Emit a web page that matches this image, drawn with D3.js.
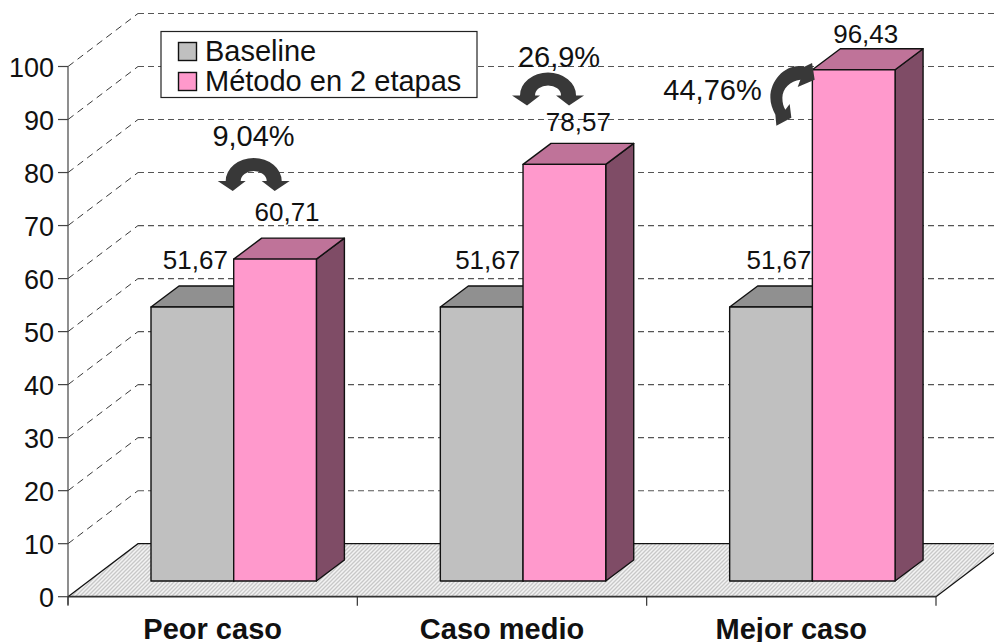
<!DOCTYPE html>
<html>
<head>
<meta charset="utf-8">
<script src="https://cdnjs.cloudflare.com/ajax/libs/d3/7.8.5/d3.min.js"></script>
<style>
html,body{margin:0;padding:0;background:#fff}
svg{display:block}
text{font-family:"Liberation Sans",Arial,sans-serif;fill:#111}
</style>
</head>
<body>
<svg id="chart" width="994" height="642"></svg>
<script>
const categories = ["Peor caso", "Caso medio", "Mejor caso"];
const seriesNames = ["Baseline", "Método en 2 etapas"];
const baselineValues = [51.67, 51.67, 51.67];
const metodoValues = [60.71, 78.57, 96.43];
const gains = ["9,04%", "26,9%", "44,76%"];
const yTicks = d3.range(0, 101, 10);

const frontColors = ["#c0c0c0", "#ff99cc"];
const topColors = ["#909090", "#bf7399"];
const sideColors = ["#606060", "#7f4c66"];

const svg = d3.select("#chart");
const y = d3.scaleLinear().domain([0, 100]).range([596.7, 66.5]);
const x = d3.scaleBand().domain(categories).range([68, 936]);
const inner = d3.scaleBand().domain([0, 1]).range([0, 165.4]);

// Oblique projection of the plot box: the wall sits one tick behind the axis plane.
const wallDx = 70, wallDy = -53;
const barDx = 28, barDy = -21;
const barShiftX = 20.5, barShiftY = -15.7;
const barGap = 62.5;

const fmt = v => d3.format(".2f")(v).replace(".", ",");

// Floor hatching
const defs = svg.append("defs");
const hatch = defs.append("pattern").attr("id", "floorHatch")
  .attr("width", 4).attr("height", 4).attr("patternUnits", "userSpaceOnUse");
hatch.append("rect").attr("width", 4).attr("height", 4).attr("fill", "#f3f3f3");
hatch.append("path").attr("d", "M-1,1L1,-1M0,4L4,0M3,5L5,3")
  .attr("stroke", "#c8c8c8").attr("stroke-width", 1.3);

// Floor
const x0 = x.range()[0], x1 = x.range()[1];
svg.append("path")
  .attr("d", d3.line()([[x0, y(0)], [x1, y(0)], [x1 + wallDx, y(0) + wallDy], [x0 + wallDx, y(0) + wallDy]]) + "Z")
  .attr("fill", "url(#floorHatch)");
svg.append("path")
  .attr("d", d3.line()([[x0, y(0)], [x0 + wallDx, y(0) + wallDy], [x1 + wallDx, y(0) + wallDy]]))
  .attr("fill", "none").attr("stroke", "#111").attr("stroke-width", 1.2);
svg.append("path")
  .attr("d", d3.line()([[x1, y(0)], [x1 + wallDx, y(0) + wallDy]]))
  .attr("fill", "none").attr("stroke", "#111").attr("stroke-width", 1.2);

// Gridlines: thin dashes up the side wall, greyer dashes along the back wall
const gridG = svg.append("g").attr("fill", "none");
gridG.selectAll(".side").data(yTicks.slice(1)).join("line").attr("class", "side")
  .attr("x1", x0).attr("y1", d => y(d)).attr("x2", x0 + wallDx).attr("y2", d => y(d) + wallDy)
  .attr("stroke", "#222").attr("stroke-width", 0.9).attr("stroke-dasharray", "7 5");
gridG.selectAll(".back").data(yTicks.slice(1)).join("line").attr("class", "back")
  .attr("x1", x0 + wallDx).attr("y1", d => y(d) + wallDy).attr("x2", 1000).attr("y2", d => y(d) + wallDy)
  .attr("stroke", "#555").attr("stroke-width", 1.1).attr("stroke-dasharray", "6 4");

// 3D bars: baseline first so the second series overlaps its side face
[baselineValues, metodoValues].forEach((vals, s) => {
  const g = svg.append("g");
  vals.forEach((v, i) => {
    const left = x(categories[i]) + barShiftX + barGap + inner(s);
    const right = left + inner.bandwidth();
    const top = y(v) + barShiftY;
    const base = y(0) + barShiftY;
    const face = (pts, fill) => g.append("path").attr("d", d3.line()(pts) + "Z").attr("fill", fill)
      .attr("stroke", "#111").attr("stroke-width", 1.4).attr("stroke-linejoin", "round");
    face([[right, top], [right + barDx, top + barDy], [right + barDx, base + barDy], [right, base]], sideColors[s]);
    face([[left, top], [left + barDx, top + barDy], [right + barDx, top + barDy], [right, top]], topColors[s]);
    face([[left, top], [right, top], [right, base], [left, base]], frontColors[s]);
  });
});

// Value axis
const axisG = svg.append("g");
axisG.append("line").attr("x1", x0).attr("x2", x0).attr("y1", y(100)).attr("y2", y(0) + 8)
  .attr("stroke", "#444").attr("stroke-width", 1.2);
axisG.selectAll(".ytick").data(yTicks).join("line").attr("class", "ytick")
  .attr("x1", x0 - 10).attr("x2", x0).attr("y1", d => y(d)).attr("y2", d => y(d))
  .attr("stroke", "#444").attr("stroke-width", 1.2);
axisG.selectAll(".ylab").data(yTicks).join("text").attr("class", "ylab")
  .attr("x", x0 - 14).attr("y", d => y(d) + 10)
  .attr("text-anchor", "end").attr("font-size", 27).text(d => d);

// Category axis
axisG.append("line").attr("x1", x0).attr("x2", x1).attr("y1", y(0)).attr("y2", y(0))
  .attr("stroke", "#333").attr("stroke-width", 1.8);
axisG.selectAll(".xtick").data(d3.range(4)).join("line").attr("class", "xtick")
  .attr("x1", d => x0 + d * x.step()).attr("x2", d => x0 + d * x.step())
  .attr("y1", y(0)).attr("y2", y(0) + 9)
  .attr("stroke", "#333").attr("stroke-width", 1.2);
axisG.selectAll(".xlab").data(categories).join("text").attr("class", "xlab")
  .attr("x", d => x(d) + x.bandwidth() / 2).attr("y", 639)
  .attr("text-anchor", "middle").attr("font-size", 29).attr("font-weight", "bold").text(d => d);

// Value labels above each bar
const labelG = svg.append("g");
const labelDx = [[3, 6, 8], [12, 14, 12]];
const labelRise = [[38, 38, 38], [38, 33, 27]];
[baselineValues, metodoValues].forEach((vals, s) => {
  vals.forEach((v, i) => {
    const left = x(categories[i]) + barShiftX + barGap + inner(s);
    labelG.append("text")
      .attr("x", left + inner.bandwidth() / 2 + labelDx[s][i])
      .attr("y", y(v) + barShiftY - labelRise[s][i])
      .attr("text-anchor", "middle").attr("font-size", 26).text(fmt(v));
  });
});

// Curved arrows marking the gain of the second series over the baseline
const archArrow = "M-36,4L-28,4A28,23 0 0 1 28,4L36,4L21,14L8,4L13,4A13,10 0 0 0 -13,4L-8,4L-21,14Z";
const sideArrow = "M-0.3,-7.7L2.3,9L-14.7,16.3L-12,9C-22,10 -30,18 -30,27C-30,32 -29,36 -27,39L-22.7,33.3L-21,47L-36,55L-37,44"
  + "C-40,38 -42,33 -42,27C-42,8 -25,-8 -8,-4Z";
const annG = svg.append("g");
const archDx = [20, 25], archRise = [82, 73];
[0, 1].forEach(i => {
  const cx = x(categories[i]) + barShiftX + barGap + inner(1);
  annG.append("path").attr("d", archArrow).attr("fill", "#383838")
    .attr("transform", `translate(${cx + archDx[i]},${y(metodoValues[i]) + barShiftY - archRise[i]})`);
});
const lastLeft = x(categories[2]) + barShiftX + barGap + inner(1);
annG.append("path").attr("d", sideArrow).attr("fill", "#383838")
  .attr("transform", `translate(${lastLeft},${y(metodoValues[2]) + barShiftY + 1})`);

annG.selectAll("text").data(gains).join("text")
  .attr("x", (d, i) => [253.5, 559, 712.5][i])
  .attr("y", (d, i) => [146, 67, 100][i])
  .attr("text-anchor", "middle").attr("font-size", 29).text(d => d);

// Legend
const legend = svg.append("g");
legend.append("rect").attr("x", 161).attr("y", 31.5).attr("width", 316).attr("height", 66)
  .attr("fill", "#fff").attr("stroke", "#222").attr("stroke-width", 1.2);
seriesNames.forEach((name, i) => {
  legend.append("rect").attr("x", 178.5).attr("y", 42.5 + i * 30).attr("width", 18).attr("height", 18)
    .attr("fill", frontColors[i]).attr("stroke", "#111").attr("stroke-width", 1.4);
  legend.append("text").attr("x", 205).attr("y", 60.5 + i * 30).attr("font-size", 29).text(name);
});
</script>
</body>
</html>
